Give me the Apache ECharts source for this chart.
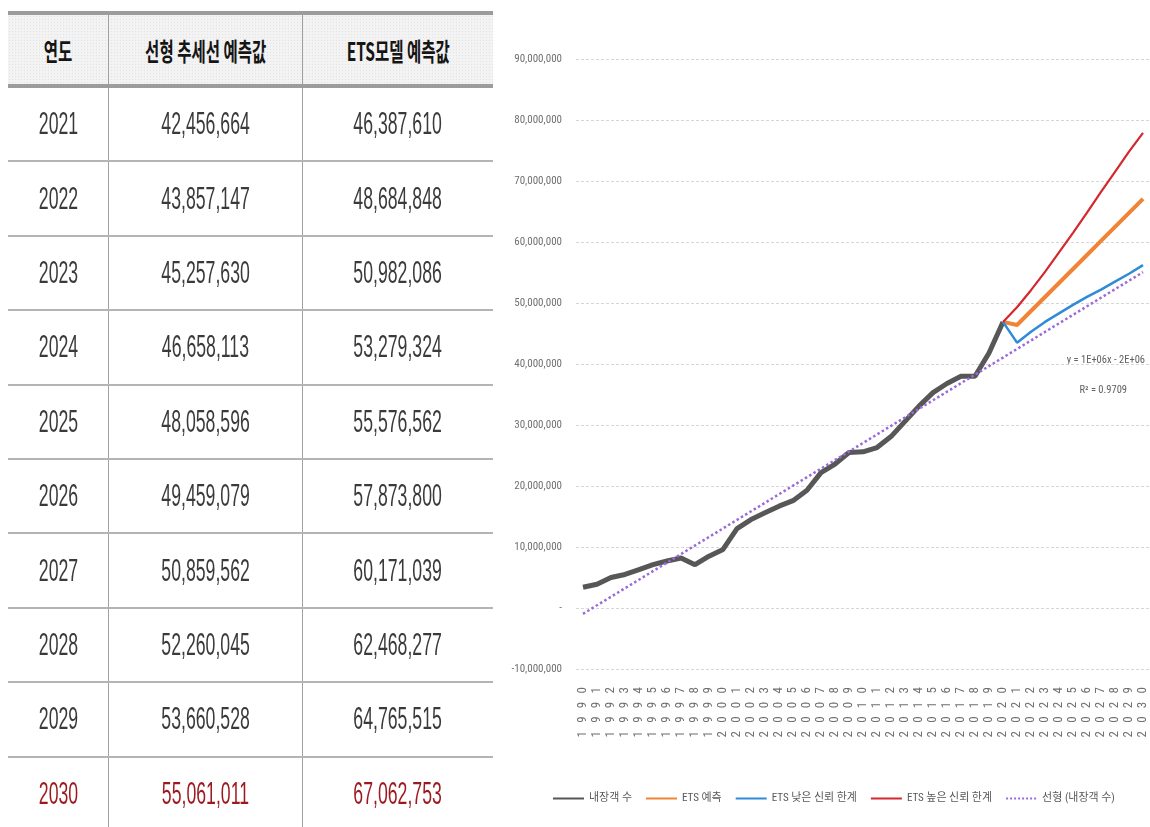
<!DOCTYPE html>
<html>
<head>
<meta charset="utf-8">
<script src="https://cdn.jsdelivr.net/npm/echarts@6/dist/echarts.min.js"></script>
<style>
  html, body { margin: 0; padding: 0; background: #fff; }
  #chart { position: absolute; left: 0; top: 0; width: 1150px; height: 827px; }
  #tbl { position: absolute; left: 8px; top: 11px; width: 485px; z-index: 2; font-family: 'Liberation Sans', 'Noto Sans CJK KR', sans-serif; }
  .row { display: flex; box-sizing: border-box; }
  .head { height: 77px; border-top: 4px solid #9c9c9c; border-bottom: 4px solid #9c9c9c;
          background-color: #f3f3f3;
          background-image: radial-gradient(#e2e2e2 0.6px, transparent 0.9px);
          background-size: 3px 3px; }
  .body { height: 74.4px; border-bottom: 2px solid #b4b4b4; }
  .c { display: flex; align-items: center; justify-content: center; box-sizing: border-box; }
  .c0 { width: 100px; }
  .c1 { width: 194px; border-left: 1px solid #a0a0a0; }
  .c2 { width: 191px; border-left: 1px solid #a0a0a0; }
  .c span { display: inline-block; white-space: nowrap; }
  .head span { font-family: 'Noto Sans CJK KR', sans-serif; font-weight: bold; font-size: 25px; color: #151515; transform: scaleX(0.62); }
  .body span { font-size: 31px; color: #3a3a3a; transform: scaleX(0.57); }
  .last span { color: #9c1a1f; }
</style>
</head>
<body>
<div id="tbl"></div>
<div id="chart"></div>
<script>
// ---- table data ----
const tableHeaders = ['연도', '선형 추세선 예측값', 'ETS모델 예측값'];
const years = ['2021', '2022', '2023', '2024', '2025', '2026', '2027', '2028', '2029', '2030'];
const linearPred = [42456664, 43857147, 45257630, 46658113, 48058596, 49459079, 50859562, 52260045, 53660528, 55061011];
const etsPred = [46387610, 48684848, 50982086, 53279324, 55576562, 57873800, 60171039, 62468277, 64765515, 67062753];

// ---- chart data ----
const categories = ['1990','1991','1992','1993','1994','1995','1996','1997','1998','1999',
  '2000','2001','2002','2003','2004','2005','2006','2007','2008','2009',
  '2010','2011','2012','2013','2014','2015','2016','2017','2018','2019',
  '2020','2021','2022','2023','2024','2025','2026','2027','2028','2029','2030'];
const visitors = [3400000, 3900000, 5000000, 5500000, 6300000, 7100000, 7700000, 8200000, 7100000, 8500000,
  9600000, 13000000, 14500000, 15600000, 16700000, 17600000, 19300000, 22200000, 23600000, 25500000,
  25600000, 26300000, 28100000, 30600000, 33100000, 35300000, 36800000, 38000000, 38000000, 41800000,
  46900000];
const etsLower = [43500000, 45300000, 46900000, 48300000, 49700000, 51000000, 52200000, 53500000, 54800000, 56200000];
const etsUpper = [49300000, 52100000, 55100000, 58300000, 61500000, 64800000, 68200000, 71500000, 74800000, 77900000];
const trendStart = -960000; // 1990 value of the linear trend line
const seriesNames = ['내장객 수', 'ETS 예측', 'ETS 낮은 신뢰 한계', 'ETS 높은 신뢰 한계', '선형 (내장객 수)'];
const trendEquation = 'y = 1E+06x - 2E+06';
const trendR2 = 'R² = 0.9709';

// ---- build table ----
(function () {
  const t = document.getElementById('tbl');
  let html = '<div class="row head">' + tableHeaders.map((h, i) =>
    '<div class="c c' + i + '"><span>' + h + '</span></div>').join('') + '</div>';
  const fmt = v => v.toLocaleString('en-US');
  years.forEach((y, i) => {
    const cls = i === years.length - 1 ? 'row body last' : 'row body';
    html += '<div class="' + cls + '">' +
      '<div class="c c0"><span>' + y + '</span></div>' +
      '<div class="c c1"><span>' + fmt(linearPred[i]) + '</span></div>' +
      '<div class="c c2"><span>' + fmt(etsPred[i]) + '</span></div></div>';
  });
  t.innerHTML = html;
})();

// ---- build chart series ----
const nActual = visitors.length;
const pad = n => new Array(n).fill(null);
const anchor = visitors[nActual - 1];
const actualData = visitors.concat(pad(categories.length - nActual));
const etsData = pad(nActual - 1).concat([anchor], etsPred);
const lowerData = pad(nActual - 1).concat([anchor], etsLower);
const upperData = pad(nActual - 1).concat([anchor], etsUpper);
const trendData = [trendStart].concat(pad(nActual - 1), linearPred);

const narrow = "'Liberation Sans Narrow', 'Roboto Condensed', 'Liberation Sans', 'Noto Sans CJK KR', sans-serif";
const chart = echarts.init(document.getElementById('chart'), null, { renderer: 'canvas' });
const lineSeries = (name, data, color, width, type, z) => ({
  name, type: 'line', data, showSymbol: false, symbol: 'none', connectNulls: true,
  lineStyle: { color, width, type: type || 'solid' }, itemStyle: { color }, z, animation: false,
  emphasis: { disabled: true }
});
chart.setOption({
  animation: false,
  grid: { left: 576, right: 0, top: 59, bottom: 158, containLabel: false },
  xAxis: {
    type: 'category', data: categories, boundaryGap: true,
    axisLine: { show: false }, axisTick: { show: false },
    axisLabel: {
      interval: 0, rotate: 90, margin: 18, fontSize: 13, color: '#707070', fontFamily: narrow,
      formatter: v => v.split('').join('\u2002\u2009')
    },
    splitLine: { show: false }
  },
  yAxis: {
    type: 'value', min: -10000000, max: 90000000, interval: 10000000,
    axisLine: { show: false }, axisTick: { show: false },
    axisLabel: {
      margin: 14, fontSize: 11, color: '#707070', fontFamily: narrow,
      formatter: v => v === 0 ? '-' : v.toLocaleString('en-US')
    },
    splitLine: { lineStyle: { color: '#d6d6d6', width: 1, type: [3, 2] } }
  },
  legend: {
    left: 547, top: 788, itemWidth: 31, itemHeight: 12, itemGap: 13,
    itemStyle: { opacity: 0 },
    textStyle: { fontSize: 11, color: '#595959', fontFamily: narrow },
    data: seriesNames
  },
  graphic: [
    { type: 'text', right: 5, top: 355, style: { text: trendEquation, fill: '#606060', font: '10.5px ' + narrow } },
    { type: 'text', right: 23, top: 385, style: { text: trendR2, fill: '#606060', font: '10.5px ' + narrow } }
  ],
  series: [
    lineSeries(seriesNames[0], actualData, '#575757', 5, 'solid', 2),
    lineSeries(seriesNames[1], etsData, '#F08436', 4, 'solid', 3),
    lineSeries(seriesNames[2], lowerData, '#2F8BD6', 2.5, 'solid', 3),
    lineSeries(seriesNames[3], upperData, '#D4272E', 2.2, 'solid', 3),
    lineSeries(seriesNames[4], trendData, '#9B6AD8', 2.5, 'dotted', 4)
  ]
});
</script>
</body>
</html>
